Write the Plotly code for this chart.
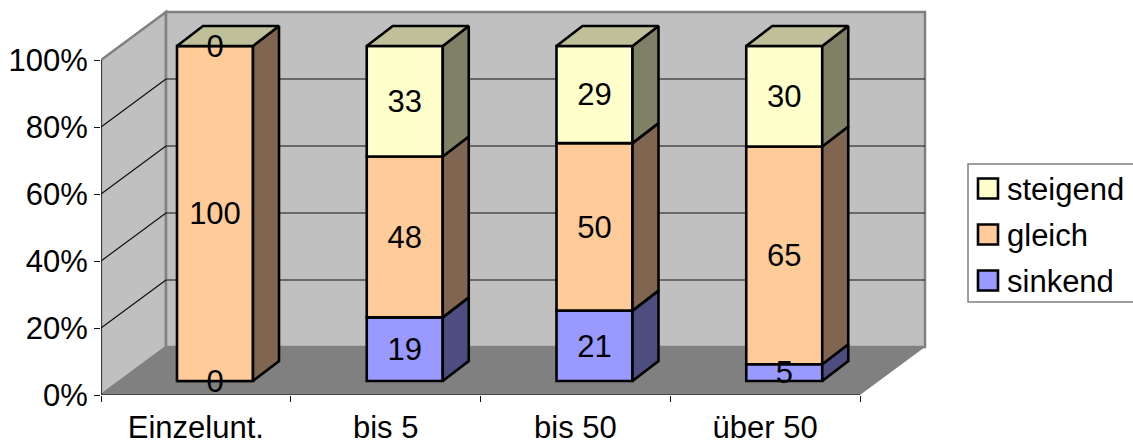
import plotly.graph_objects as go

categories = ["Einzelunt.", "bis 5", "bis 50", "über 50"]
sinkend = [0, 19, 21, 5]
gleich = [100, 48, 50, 65]
steigend = [0, 33, 29, 30]
series_names = ["sinkend", "gleich", "steigend"]
series_values = [sinkend, gleich, steigend]
front_colors = ["#9999FF", "#FFCC99", "#FFFFCC"]
side_colors = ["#4D4D80", "#806650", "#808066"]
top_color = "#BFBF99"
y_ticks = [0, 20, 40, 60, 80, 100]

W, H = 1133, 445
PX_X = 189.75   # px per category
PX_Y = 3.35     # px per percent
L, B = 101, 395
R_PX, T_PX = 935, 5
WALL_DX, WALL_DY = 65 / PX_X, 48 / PX_Y
BAR_DX, BAR_DY = 26 / PX_X, 20 / PX_Y
SHIFT_Y = 14 / PX_Y
LABEL_NUDGE = 3 / PX_Y
BAR_W = 76 / PX_X
BAR_L = 76 / PX_X
FS = 31
LW = 2.6
FONT = "Liberation Sans"

fig = go.Figure()
n = len(categories)
xmax = float(n)
shapes = []

def poly(points):
    return "M" + " L".join(f"{x},{y}" for x, y in points) + " Z"

# walls and floor
wall_line = dict(color="#808080", width=2.5)
shapes.append(dict(type="path", xref="x", yref="y", layer="below", fillcolor="#C0C0C0", line=wall_line,
                   path=poly([(0, 100), (WALL_DX, 100 + WALL_DY), (WALL_DX, WALL_DY), (0, 0)])))
shapes.append(dict(type="path", xref="x", yref="y", layer="below", fillcolor="#C0C0C0", line=wall_line,
                   path=poly([(WALL_DX, 100 + WALL_DY), (xmax + WALL_DX, 100 + WALL_DY), (xmax + WALL_DX, WALL_DY), (WALL_DX, WALL_DY)])))
shapes.append(dict(type="path", xref="x", yref="y", layer="below", fillcolor="#808080", line=dict(width=0),
                   path=poly([(0, 0), (xmax, 0), (xmax + WALL_DX, WALL_DY), (WALL_DX, WALL_DY)])))
for t in y_ticks[1:-1]:
    shapes.append(dict(type="line", xref="x", yref="y", layer="below", line=dict(color="#111111", width=1.2),
                       x0=0, y0=t, x1=WALL_DX, y1=t + WALL_DY))
    shapes.append(dict(type="line", xref="x", yref="y", layer="below", line=dict(color="#111111", width=1.2),
                       x0=WALL_DX, y0=t + WALL_DY, x1=xmax + WALL_DX, y1=t + WALL_DY))

# front faces
centers = [i + BAR_L + BAR_W / 2 for i in range(n)]
cum = [0] * n
bases = []
for name, vals, col in zip(series_names, series_values, front_colors):
    base = [c + SHIFT_Y for c in cum]
    bases.append(base)
    fig.add_trace(go.Bar(x=centers, y=vals, base=base, width=BAR_W, name=name, showlegend=False,
                         marker=dict(color=col, line=dict(color="black", width=LW)), hoverinfo="skip"))
    cum = [c + v for c, v in zip(cum, vals)]

# side faces
for vals, base, col in zip(series_values, bases, side_colors):
    for cx, v, b in zip(centers, vals, base):
        if v == 0:
            continue
        x1 = cx + BAR_W / 2
        fig.add_trace(go.Scatter(
            x=[x1, x1 + BAR_DX, x1 + BAR_DX, x1, x1],
            y=[b, b + BAR_DY, b + v + BAR_DY, b + v, b],
            mode="lines", fill="toself", fillcolor=col, line=dict(color="black", width=LW),
            showlegend=False, hoverinfo="skip"))

# top faces
for cx, c in zip(centers, cum):
    x0, x1 = cx - BAR_W / 2, cx + BAR_W / 2
    top = c + SHIFT_Y
    fig.add_trace(go.Scatter(
        x=[x0, x1, x1 + BAR_DX, x0 + BAR_DX, x0],
        y=[top, top, top + BAR_DY, top + BAR_DY, top],
        mode="lines", fill="toself", fillcolor=top_color, line=dict(color="black", width=LW),
        showlegend=False, hoverinfo="skip"))

# axis lines
fig.add_trace(go.Scatter(x=[0, 0, xmax], y=[y_ticks[-1], 0, 0], mode="lines",
                         line=dict(color="#111111", width=1.2), cliponaxis=False,
                         showlegend=False, hoverinfo="skip"))

# data labels
for vals, base in zip(series_values, bases):
    fig.add_trace(go.Scatter(x=centers, y=[b + v / 2 - LABEL_NUDGE for b, v in zip(base, vals)],
                             text=[str(v) for v in vals], mode="text", textposition="middle center",
                             textfont=dict(family=FONT, size=FS, color="black"),
                             cliponaxis=False, showlegend=False, hoverinfo="skip"))

# legend
annotations = []
LEG_L, LEG_T, LEG_B = 968, 164, 302
def px(x): return (x - L) / (R_PX - L)
def py(y): return (B - y) / (B - T_PX)
shapes.append(dict(type="rect", xref="paper", yref="paper", x0=px(LEG_L), x1=px(W + 5), y0=py(LEG_T), y1=py(LEG_B),
                   fillcolor="white", line=dict(color="#808080", width=1.5)))
for k, idx in enumerate([2, 1, 0]):
    yc = 188.5 + k * 46
    shapes.append(dict(type="rect", xref="paper", yref="paper", x0=px(978), x1=px(998), y0=py(yc - 10), y1=py(yc + 10),
                       fillcolor=front_colors[idx], line=dict(color="black", width=LW)))
    annotations.append(dict(xref="paper", yref="paper", x=px(1006), y=py(yc + 1), xanchor="left", yanchor="middle",
                            text=series_names[idx], showarrow=False, borderpad=0,
                            font=dict(family=FONT, size=FS, color="black")))

fig.update_layout(
    width=W, height=H, autosize=False, barmode="overlay", showlegend=False,
    paper_bgcolor="white", plot_bgcolor="rgba(0,0,0,0)",
    margin=dict(l=L, r=W - R_PX, t=T_PX, b=H - B, pad=0),
    font=dict(family=FONT, size=FS, color="black"),
    shapes=shapes, annotations=annotations,
    xaxis=dict(range=[0, (R_PX - L) / PX_X], tickmode="array", tickvals=[i + 0.5 for i in range(n)],
               ticktext=categories, ticks="", showgrid=False, zeroline=False, showline=False,
               ticklabelstandoff=11, automargin=False,
               tickfont=dict(family=FONT, size=FS, color="black"),
               minor=dict(tickmode="array", tickvals=list(range(n + 1)), ticks="outside", ticklen=6,
                          tickcolor="#111111", tickwidth=1.2, showgrid=False)),
    yaxis=dict(range=[0, (B - T_PX) / PX_Y], tickmode="array", tickvals=y_ticks,
               ticktext=[f"{t}%" for t in y_ticks], ticks="outside", ticklen=6, tickcolor="#111111", tickwidth=1.2,
               showgrid=False, zeroline=False, showline=False, automargin=False,
               tickfont=dict(family=FONT, size=FS, color="black")),
)

fig.write_html("out.html", config={"displayModeBar": False}, post_script="document.body.style.margin='0';")
